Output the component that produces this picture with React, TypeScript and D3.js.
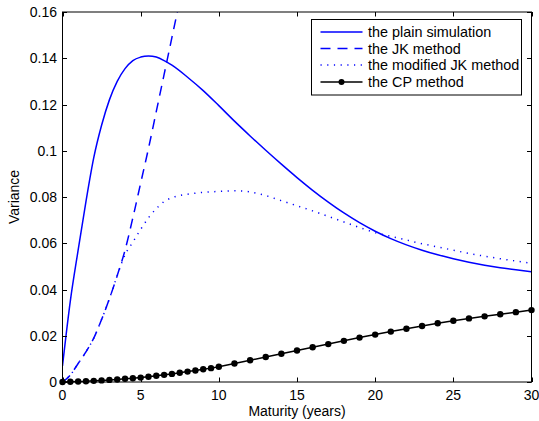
import React, { useEffect, useRef } from 'react';
import * as d3 from 'd3';

// maturity grid for the three blue curves
const plainX = [0, 0.5, 1, 1.5, 2, 2.5, 3, 3.5, 4, 4.5, 5, 5.5, 6, 6.5, 7, 8, 9, 10, 11, 12, 13, 14, 15, 16, 17, 18, 19, 20, 21, 22, 23, 24, 25, 26, 27, 28, 29, 30];
const plainY = [0.007, 0.035, 0.057, 0.078, 0.097, 0.111, 0.122, 0.130, 0.1355, 0.139, 0.1405, 0.141, 0.1405, 0.139, 0.137, 0.1318, 0.126, 0.1195, 0.1128, 0.1064, 0.1002, 0.0942, 0.0884, 0.0829, 0.0778, 0.0731, 0.0689, 0.0652, 0.062, 0.0593, 0.057, 0.055, 0.0533, 0.0518, 0.0505, 0.0494, 0.0485, 0.0477];

const jkX = [0, 0.5, 1, 1.5, 2, 2.5, 3, 3.5, 4, 4.5, 5, 5.5, 6, 6.5, 7, 7.5];
const jkY = [0, 0.003, 0.008, 0.013, 0.019, 0.027, 0.036, 0.046, 0.057, 0.071, 0.086, 0.101, 0.117, 0.133, 0.149, 0.165];

const modX = [0, 0.5, 1, 1.5, 2, 2.5, 3, 3.5, 4, 4.5, 5, 5.5, 6, 6.5, 7, 8, 9, 10, 11, 12, 13, 14, 15, 16, 17, 18, 19, 20, 21, 22, 23, 24, 25, 26, 27, 28, 29, 30];
const modY = [0, 0.003, 0.008, 0.013, 0.019, 0.027, 0.036, 0.046, 0.055, 0.0605, 0.066, 0.071, 0.075, 0.078, 0.0797, 0.0812, 0.082, 0.0824, 0.0827, 0.0822, 0.0806, 0.0784, 0.0762, 0.074, 0.0716, 0.0692, 0.0668, 0.0646, 0.063, 0.0614, 0.0598, 0.0584, 0.057, 0.0556, 0.0544, 0.0533, 0.0523, 0.0513];

const cpX = [0, 0.5, 1, 1.5, 2, 2.5, 3, 3.5, 4, 4.5, 5, 5.5, 6, 6.5, 7, 7.5, 8, 8.5, 9, 9.5, 10, 11, 12, 13, 14, 15, 16, 17, 18, 19, 20, 21, 22, 23, 24, 25, 26, 27, 28, 29, 30];
const cpY = [0, 0.0001, 0.0002, 0.0003, 0.0005, 0.0007, 0.0009, 0.0011, 0.0014, 0.0016, 0.0019, 0.0023, 0.0027, 0.0031, 0.0035, 0.0040, 0.0045, 0.0050, 0.0055, 0.0060, 0.0066, 0.0080, 0.0094, 0.0108, 0.0122, 0.0136, 0.0150, 0.0164, 0.0178, 0.0192, 0.0205, 0.0218, 0.0230, 0.0242, 0.0254, 0.0265, 0.0275, 0.0284, 0.0293, 0.0302, 0.0311];

const xTicks = [0, 5, 10, 15, 20, 25, 30];
const yTicks = [0, 0.02, 0.04, 0.06, 0.08, 0.1, 0.12, 0.14, 0.16];
const legendLabels = ['the plain simulation', 'the JK method', 'the modified JK method', 'the CP method'];

const App = () => {
  const ref = useRef(null);

  useEffect(() => {
    const width = 539;
    const height = 421;
    const left = 62.5, right = 531.5, top = 12, bottom = 382;
    const font = 'Liberation Sans, Arial, Helvetica, sans-serif';

    const x = d3.scaleLinear().domain([0, 30]).range([left, right]);
    const y = d3.scaleLinear().domain([0, 0.16]).range([bottom, top]);

    const svg = d3.select(ref.current);
    svg.selectAll('*').remove();
    svg.attr('width', width).attr('height', height);

    svg.append('rect').attr('width', width).attr('height', height).attr('fill', '#fff');

    svg.append('defs').append('clipPath').attr('id', 'plotclip')
      .append('rect').attr('x', left).attr('y', top).attr('width', right - left).attr('height', bottom - top);

    const plot = svg.append('g').attr('clip-path', 'url(#plotclip)');

    const smooth = d3.line<[number, number]>().curve(d3.curveMonotoneX);
    const straight = d3.line<[number, number]>();
    const pts = (xs: number[], ys: number[]) => xs.map((v, i) => [x(v), y(ys[i])] as [number, number]);

    // plain simulation
    plot.append('path').attr('d', smooth(pts(plainX, plainY)))
      .attr('fill', 'none').attr('stroke', '#0000ff').attr('stroke-width', 1.5);

    // JK method (dashed)
    plot.append('path').attr('d', smooth(pts(jkX, jkY)))
      .attr('fill', 'none').attr('stroke', '#0000ff').attr('stroke-width', 1.5)
      .attr('stroke-dasharray', '10 7');

    // modified JK (dotted)
    plot.append('path').attr('d', smooth(pts(modX, modY)))
      .attr('fill', 'none').attr('stroke', '#0000ff').attr('stroke-width', 1.5)
      .attr('stroke-dasharray', '1.2 5.5');

    // CP method
    const cp = pts(cpX, cpY);
    svg.append('path').attr('d', straight(cp))
      .attr('fill', 'none').attr('stroke', '#000').attr('stroke-width', 1.5);
    svg.append('g').selectAll('circle').data(cp).enter().append('circle')
      .attr('cx', d => d[0]).attr('cy', d => d[1]).attr('r', 3.2).attr('fill', '#000');

    // axes box and ticks
    const axes = svg.append('g').attr('stroke', '#000').attr('stroke-width', 1);
    axes.append('rect').attr('x', left).attr('y', top).attr('width', right - left).attr('height', bottom - top)
      .attr('fill', 'none');
    const tl = 4.5;
    xTicks.forEach(t => {
      const px = Math.round(x(t)) + 0.5;
      axes.append('line').attr('x1', px).attr('x2', px).attr('y1', bottom).attr('y2', bottom - tl);
      axes.append('line').attr('x1', px).attr('x2', px).attr('y1', top).attr('y2', top + tl);
    });
    yTicks.forEach(t => {
      const py = Math.round(y(t)) + 0.5;
      axes.append('line').attr('x1', left).attr('x2', left + tl).attr('y1', py).attr('y2', py);
      axes.append('line').attr('x1', right).attr('x2', right - tl).attr('y1', py).attr('y2', py);
    });

    const labels = svg.append('g').attr('font-family', font).attr('font-size', 14).attr('fill', '#000');
    xTicks.forEach(t => {
      labels.append('text').attr('x', x(t)).attr('y', 400).attr('text-anchor', 'middle').text(String(t));
    });
    yTicks.forEach(t => {
      labels.append('text').attr('x', 57).attr('y', y(t) + 5).attr('text-anchor', 'end')
        .text(t === 0 ? '0' : d3.format('.2~f')(t));
    });
    labels.append('text').attr('x', (left + right) / 2).attr('y', 416).attr('text-anchor', 'middle')
      .text('Maturity (years)');
    labels.append('text').attr('transform', `translate(19,${(top + bottom) / 2}) rotate(-90)`)
      .attr('text-anchor', 'middle').text('Variance');

    // legend
    const lg = svg.append('g');
    lg.append('rect').attr('x', 311.5).attr('y', 19.5).attr('width', 210).attr('height', 75.5)
      .attr('fill', '#fff').attr('stroke', '#000').attr('stroke-width', 1);
    const rowY = [32, 48.5, 65, 82];
    const styles = [
      { stroke: '#0000ff', dash: null },
      { stroke: '#0000ff', dash: '10 7' },
      { stroke: '#0000ff', dash: '1.2 5.5' },
      { stroke: '#000', dash: null },
    ];
    legendLabels.forEach((label, i) => {
      const ly = rowY[i];
      const ln = lg.append('line').attr('x1', 320.5).attr('x2', 362.5).attr('y1', ly).attr('y2', ly)
        .attr('stroke', styles[i].stroke).attr('stroke-width', 1.5);
      if (styles[i].dash) ln.attr('stroke-dasharray', styles[i].dash);
      if (i === 3) lg.append('circle').attr('cx', 341.5).attr('cy', ly).attr('r', 3).attr('fill', '#000');
      lg.append('text').attr('x', 368).attr('y', ly + 5).attr('font-family', font).attr('font-size', 14.4)
        .text(label);
    });
  }, []);

  return <svg ref={ref} style={{ position: 'absolute', left: 0, top: 0 }}></svg>;
};

export default App;
